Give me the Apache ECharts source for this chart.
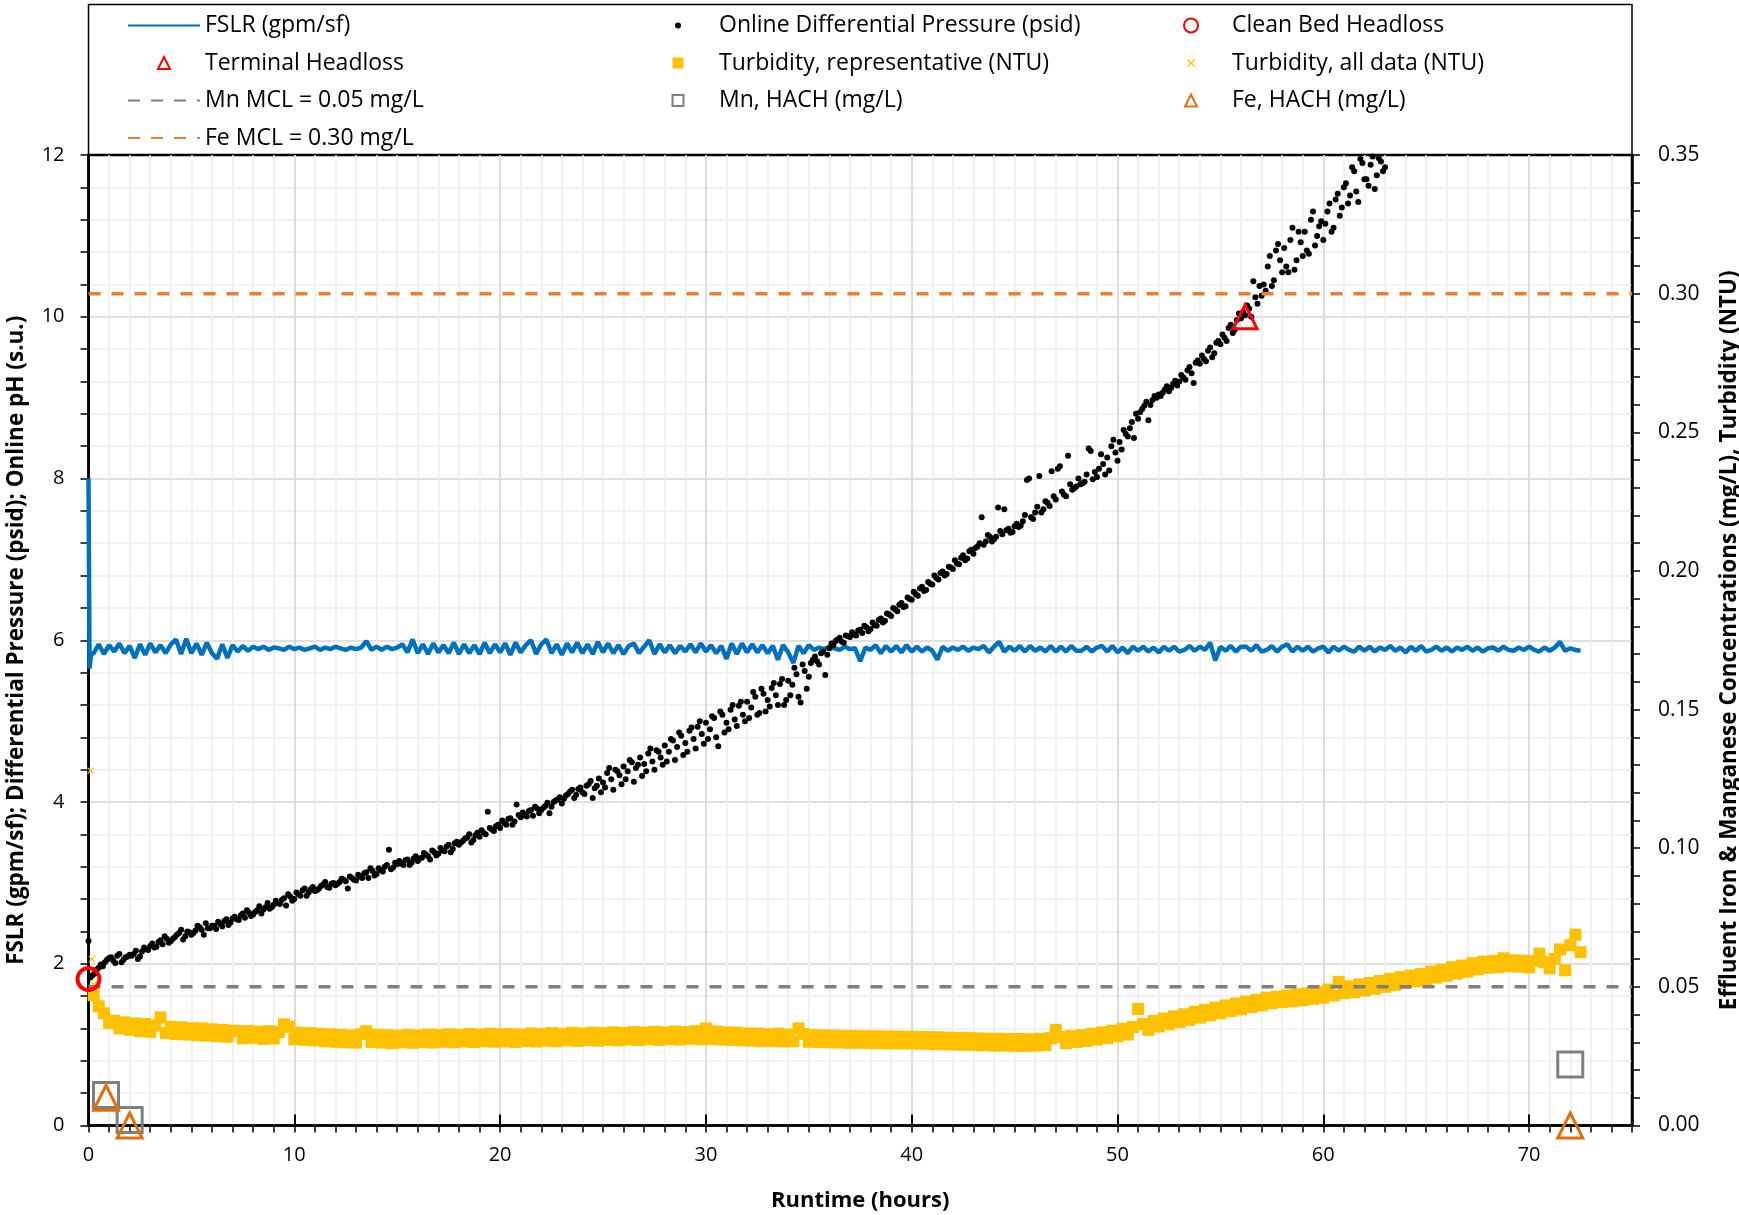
<!DOCTYPE html>
<html>
<head>
<meta charset="utf-8">
<script src="https://cdn.jsdelivr.net/npm/echarts@6/dist/echarts.min.js"></script>
<style>
  html, body { margin: 0; padding: 0; background: #ffffff; }
  #chart { width: 1739px; height: 1215px; }
</style>
</head>
<body>
<div id="chart"></div>
<script>
// ---- Filter run data -------------------------------------------------------

// Filter surface loading rate (gpm/sf): start-up points, then 15-minute log
const fslrStart = [[0, 8.0], [0.05, 5.65], [0.12, 5.82]];
const fslrStep = 0.25;
const fslrValues = [
  5.84, 5.95, 5.83, 5.94,  5.86, 5.96, 5.84, 5.93,  5.78, 5.95, 5.82, 5.96,  5.85, 5.94, 5.84, 5.95,
  6.01, 5.83, 6.02, 5.84,  5.96, 5.82, 5.97, 5.84,  5.77, 5.95, 5.78, 5.94,  5.86, 5.93, 5.87, 5.92,
  5.89, 5.92, 5.88, 5.91,  5.90, 5.88, 5.92, 5.89,  5.91, 5.88, 5.90, 5.92,  5.88, 5.91, 5.89, 5.92,
  5.90, 5.88, 5.91, 5.89,  5.91, 5.99, 5.88, 5.92,  5.88, 5.92, 5.89, 5.91,  5.95, 5.85, 6.01, 5.84,
  5.95, 5.83, 5.96, 5.85,  5.94, 5.84, 5.97, 5.83,  5.95, 5.84, 5.94, 5.83,  5.97, 5.84, 5.95, 5.85,
  5.96, 5.82, 5.97, 5.85,  5.94, 6.00, 5.83, 5.95,  6.01, 5.84, 5.95, 5.82,  5.96, 5.85, 5.97, 5.84,
  5.95, 5.83, 5.98, 5.85,  5.96, 5.84, 5.94, 5.83,  5.93, 5.96, 5.84, 5.92,  6.00, 5.83, 5.95, 5.85,
  5.94, 5.84, 5.93, 5.86,  5.95, 5.85, 5.96, 5.86,  5.94, 5.84, 5.93, 5.77,  5.96, 5.83, 5.96, 5.85,
  5.95, 5.85, 5.94, 5.84,  5.93, 5.76, 5.94, 5.85,  5.72, 5.93, 5.84, 5.94,  5.88, 5.91, 5.89, 5.92,
  5.90, 5.88, 5.92, 5.89,  5.90, 5.74, 5.91, 5.88,  5.94, 5.84, 5.93, 5.86,  5.93, 5.85, 5.94, 5.86,
  5.92, 5.86, 5.91, 5.87,  5.76, 5.92, 5.87, 5.91,  5.88, 5.92, 5.87, 5.91,  5.89, 5.93, 5.85, 5.92,
  5.98, 5.86, 5.92, 5.87,  5.93, 5.86, 5.93, 5.87,  5.91, 5.86, 5.93, 5.86,  5.92, 5.86, 5.93, 5.87,
  5.87, 5.92, 5.86, 5.91,  5.93, 5.86, 5.93, 5.85,  5.91, 5.84, 5.92, 5.87,  5.92, 5.86, 5.91, 5.85,
  5.92, 5.87, 5.92, 5.86,  5.88, 5.93, 5.87, 5.92,  5.88, 5.97, 5.75, 5.92,  5.87, 5.93, 5.86, 5.92,
  5.92, 5.87, 5.94, 5.86,  5.88, 5.93, 5.86, 5.92,  5.95, 5.86, 5.92, 5.87,  5.92, 5.86, 5.90, 5.92,
  5.85, 5.92, 5.87, 5.92,  5.88, 5.86, 5.92, 5.87,  5.92, 5.86, 5.91, 5.88,  5.93, 5.87, 5.91, 5.85,
  5.92, 5.87, 5.93, 5.86,  5.88, 5.92, 5.87, 5.91,  5.86, 5.91, 5.88, 5.92,  5.87, 5.91, 5.86, 5.90,
  5.91, 5.87, 5.92, 5.88,  5.87, 5.91, 5.88, 5.92,  5.88, 5.86, 5.91, 5.87,  5.91, 5.98, 5.87, 5.90,
  5.88, 5.87
];

// Online differential pressure (psid): first reading, then two interleaved 12-minute logs
const dpFirst = [0, 2.28];
const dpStep = 0.2;
// readings on the even tenths (0.2, 0.4, ...)
const dpValues = [
  1.86, 1.93, 1.99, 2.02, 2.07,  2.04, 2.10, 2.02, 2.08, 2.11,  2.12, 2.06, 2.15, 2.18, 2.22,
  2.20, 2.27, 2.24, 2.31, 2.28,  2.33, 2.38, 2.30, 2.40, 2.36,  2.41, 2.45, 2.36, 2.44, 2.47,
  2.43, 2.49, 2.53, 2.48, 2.56,  2.55, 2.60, 2.57, 2.63, 2.61,  2.66, 2.62, 2.70, 2.68, 2.73,
  2.75, 2.79, 2.72, 2.83, 2.80,  2.86, 2.91, 2.84, 2.92, 2.90,  2.93, 2.98, 2.95, 2.99, 2.97,
  3.01, 3.04, 2.93, 3.06, 3.03,  3.08, 3.12, 3.06, 3.15, 3.11,  3.16, 3.20, 3.41, 3.19, 3.23,
  3.24, 3.28, 3.22, 3.30, 3.27,  3.31, 3.35, 3.29, 3.38, 3.36,  3.40, 3.45, 3.38, 3.49, 3.47,
  3.52, 3.56, 3.50, 3.59, 3.57,  3.62, 3.88, 3.66, 3.70, 3.68,  3.74, 3.79, 3.72, 3.97, 3.81,
  3.84, 3.89, 3.83, 3.92, 3.90,  3.95, 3.86, 4.00, 4.03, 3.98,  4.08, 4.13, 4.05, 4.16, 4.12,
  4.20, 4.26, 4.17, 4.29, 4.24,  4.36, 4.28, 4.40, 4.33, 4.44,  4.38, 4.49, 4.42, 4.55, 4.47,
  4.60, 4.50, 4.64, 4.55, 4.70,  4.62, 4.76, 4.68, 4.82, 4.73,  4.88, 4.78, 4.93, 4.84, 4.98,
  4.90, 5.04, 4.69, 5.08, 4.98,  5.14, 5.02, 5.19, 5.08, 5.24,  5.17, 5.30, 5.10, 5.34, 5.26,
  5.41, 5.32, 5.46, 5.20, 5.50,  5.45, 5.58, 5.23, 5.62, 5.55,  5.76, 5.74, 5.84, 5.57, 5.90,
  5.94, 6.01, 5.98, 6.06, 6.04,  6.07, 6.12, 6.09, 6.16, 6.14,  6.19, 6.25, 6.22, 6.33, 6.30,
  6.38, 6.44, 6.41, 6.53, 6.50,  6.57, 6.64, 6.61, 6.72, 6.69,  6.77, 6.83, 6.80, 6.91, 6.88,
  6.95, 7.02, 6.99, 7.10, 7.07,  7.16, 7.52, 7.22, 7.28, 7.25,  7.64, 7.31, 7.36, 7.33, 7.41,
  7.40, 7.47, 7.98, 7.52, 7.58,  8.03, 7.62, 7.70, 8.09, 7.74,  8.15, 7.80, 8.28, 7.86, 7.90,
  7.93, 7.96, 8.37, 7.99, 8.02,  8.30, 8.05, 8.10, 8.48, 8.22,  8.36, 8.55, 8.62, 8.50, 8.74,
  8.86, 8.95, 8.91, 9.02, 9.04,  9.06, 9.14, 9.12, 9.21, 9.20,  9.25, 9.34, 9.30, 9.43, 9.42,
  9.48, 9.58, 9.50, 9.68, 9.66,  9.74, 9.86, 9.80, 9.96, 9.98,  10.02, 10.10, 10.44, 10.16, 10.26,
  10.32, 10.75, 10.45, 10.90, 10.55,  10.62, 10.95, 10.58, 11.05, 10.75,  10.82, 11.20, 10.88, 11.12, 10.95,
  11.30, 11.05, 11.45, 11.25, 11.60,  11.40, 11.85, 11.55, 11.95, 11.70,  11.62, 11.98, 11.75, 11.92, 11.85
];
// readings on the odd tenths (0.1, 0.3, ...)
const dpValuesOdd = [
  1.83, 1.88, 1.95, 1.97, 2.05,  2.08, 2.01, 2.12, 2.05, 2.09,  2.10, 2.16, 2.09, 2.20, 2.17,
  2.25, 2.21, 2.29, 2.34, 2.26,  2.31, 2.36, 2.42, 2.34, 2.39,  2.38, 2.47, 2.42, 2.50, 2.44,
  2.47, 2.52, 2.46, 2.55, 2.51,  2.58, 2.54, 2.62, 2.66, 2.59,  2.64, 2.71, 2.67, 2.75, 2.70,
  2.78, 2.74, 2.81, 2.86, 2.78,  2.88, 2.84, 2.93, 2.88, 2.95,  2.91, 2.96, 3.01, 2.94, 3.00,
  2.99, 3.05, 3.02, 3.08, 3.04,  3.10, 3.06, 3.13, 3.18, 3.09,  3.18, 3.14, 3.22, 3.17, 3.25,
  3.27, 3.22, 3.29, 3.25, 3.33,  3.30, 3.37, 3.33, 3.40, 3.34,  3.43, 3.39, 3.47, 3.42, 3.51,
  3.50, 3.55, 3.60, 3.53, 3.62,  3.65, 3.60, 3.68, 3.64, 3.72,  3.77, 3.72, 3.80, 3.76, 3.84,
  3.87, 3.82, 3.90, 3.94, 3.86,  3.93, 3.99, 3.94, 4.02, 4.06,  4.04, 4.10, 4.15, 4.09, 4.18,
  4.10, 4.22, 4.05, 4.20, 4.12,  4.18, 4.42, 4.15, 4.38, 4.22,  4.28, 4.52, 4.25, 4.46, 4.32,
  4.38, 4.66, 4.40, 4.62, 4.46,  4.50, 4.78, 4.52, 4.86, 4.58,  4.62, 4.92, 4.66, 5.00, 4.72,
  4.78, 5.06, 4.80, 5.12, 4.86,  4.90, 5.20, 4.94, 5.24, 5.00,  5.04, 5.36, 5.08, 5.40, 5.12,
  5.18, 5.47, 5.20, 5.52, 5.26,  5.32, 5.66, 5.30, 5.70, 5.40,  5.72, 5.80, 5.70, 5.86, 5.82,
  5.96, 5.99, 6.03, 5.97, 6.05,  6.10, 6.06, 6.13, 6.18, 6.11,  6.22, 6.18, 6.27, 6.24, 6.32,
  6.40, 6.36, 6.46, 6.42, 6.51,  6.60, 6.55, 6.66, 6.62, 6.70,  6.80, 6.75, 6.85, 6.82, 6.90,
  6.99, 6.94, 7.05, 7.01, 7.12,  7.14, 7.20, 7.18, 7.30, 7.22,  7.28, 7.35, 7.62, 7.38, 7.34,
  7.44, 7.42, 7.55, 8.00, 7.50,  7.65, 7.58, 7.72, 7.66, 7.78,  8.12, 7.84, 7.78, 7.93, 7.88,
  8.00, 7.94, 8.05, 8.34, 8.08,  8.12, 8.18, 8.26, 8.40, 8.32,  8.45, 8.60, 8.52, 8.70, 8.80,
  8.82, 8.90, 8.72, 8.97, 9.00,  9.02, 9.10, 9.08, 9.17, 9.15,  9.28, 9.22, 9.38, 9.18, 9.46,
  9.52, 9.45, 9.62, 9.55, 9.70,  9.78, 9.70, 9.90, 9.84, 10.04,  10.06, 10.14, 10.00, 10.24, 10.38,
  10.40, 10.62, 10.38, 10.82, 10.70,  10.85, 10.55, 11.10, 10.70, 10.92,  11.05, 10.78, 11.30, 11.00, 11.18,
  11.15, 11.40, 11.10, 11.52, 11.35,  11.65, 11.50, 11.80, 11.42, 11.90,  11.70, 11.88, 11.58, 11.96, 11.80
];

// Effluent turbidity, representative values (NTU), 15-minute log
const turbStep = 0.25;
const turbValues = [
  0.0470, 0.0430, 0.0405, 0.0370,  0.0378, 0.0350, 0.0372, 0.0345,  0.0368, 0.0340, 0.0366, 0.0338,
  0.0360, 0.0390, 0.0333, 0.0356,  0.0330, 0.0354, 0.0328, 0.0351,  0.0326, 0.0350, 0.0324, 0.0347,
  0.0322, 0.0345, 0.0320, 0.0342,  0.0340, 0.0314, 0.0341, 0.0316,  0.0338, 0.0312, 0.0340, 0.0314,
  0.0337, 0.0365, 0.0356, 0.0311,  0.0335, 0.0309, 0.0333, 0.0307,  0.0331, 0.0304, 0.0329, 0.0302,
  0.0327, 0.0300, 0.0325, 0.0299,  0.0329, 0.0340, 0.0301, 0.0327,  0.0299, 0.0326, 0.0297, 0.0324,
  0.0300, 0.0327, 0.0298, 0.0325,  0.0301, 0.0328, 0.0299, 0.0326,  0.0302, 0.0329, 0.0300, 0.0327,
  0.0303, 0.0330, 0.0301, 0.0328,  0.0304, 0.0331, 0.0302, 0.0329,  0.0303, 0.0330, 0.0301, 0.0328,
  0.0305, 0.0332, 0.0303, 0.0330,  0.0306, 0.0333, 0.0304, 0.0331,  0.0307, 0.0334, 0.0305, 0.0332,
  0.0308, 0.0335, 0.0306, 0.0333,  0.0309, 0.0336, 0.0307, 0.0334,  0.0310, 0.0337, 0.0308, 0.0335,
  0.0311, 0.0338, 0.0309, 0.0336,  0.0312, 0.0339, 0.0310, 0.0337,  0.0313, 0.0340, 0.0311, 0.0350,
  0.0312, 0.0339, 0.0310, 0.0336,  0.0309, 0.0335, 0.0307, 0.0332,  0.0306, 0.0332, 0.0304, 0.0329,
  0.0305, 0.0331, 0.0303, 0.0328,  0.0304, 0.0350, 0.0330, 0.0302,  0.0326, 0.0301, 0.0325, 0.0300,
  0.0324, 0.0299, 0.0323, 0.0298,  0.0323, 0.0298, 0.0322, 0.0297,  0.0322, 0.0297, 0.0321, 0.0296,
  0.0321, 0.0296, 0.0320, 0.0295,  0.0320, 0.0295, 0.0319, 0.0294,  0.0318, 0.0293, 0.0317, 0.0292,
  0.0316, 0.0291, 0.0315, 0.0290,  0.0314, 0.0289, 0.0313, 0.0288,  0.0313, 0.0288, 0.0312, 0.0287,
  0.0312, 0.0287, 0.0311, 0.0288,  0.0313, 0.0290, 0.0315, 0.0345,  0.0319, 0.0297, 0.0323, 0.0301,
  0.0326, 0.0305, 0.0331, 0.0310,  0.0336, 0.0315, 0.0342, 0.0322,  0.0349, 0.0328, 0.0355, 0.0420,
  0.0366, 0.0345, 0.0377, 0.0357,  0.0386, 0.0365, 0.0394, 0.0373,  0.0401, 0.0381, 0.0410, 0.0389,
  0.0417, 0.0397, 0.0425, 0.0405,  0.0433, 0.0413, 0.0440, 0.0419,  0.0447, 0.0427, 0.0453, 0.0433,
  0.0461, 0.0441, 0.0465, 0.0445,  0.0469, 0.0448, 0.0473, 0.0452,  0.0477, 0.0456, 0.0481, 0.0461,
  0.0490, 0.0469, 0.0518, 0.0477,  0.0502, 0.0481, 0.0509, 0.0487,  0.0514, 0.0493, 0.0521, 0.0500,
  0.0529, 0.0507, 0.0535, 0.0514,  0.0541, 0.0520, 0.0547, 0.0526,  0.0555, 0.0533, 0.0561, 0.0540,
  0.0571, 0.0548, 0.0577, 0.0555,  0.0585, 0.0563, 0.0591, 0.0569,  0.0593, 0.0571, 0.0603, 0.0575,
  0.0596, 0.0573, 0.0594, 0.0570,  0.0593, 0.0620, 0.0589, 0.0567,  0.0601, 0.0635, 0.0560, 0.0650,
  0.0688, 0.0625
];

// Turbidity readings outside the representative set (NTU)
const turbAll = [[0.10, 0.128], [0.17, 0.060], [0.25, 0.051]];

// Headloss markers (psid)
const cleanBed = [[0, 1.81]];
const terminal = [[56.2, 10.0]];

// Grab samples, HACH (mg/L)
const mnHach = [[0.85, 0.011], [2.0, 0.002], [72.0, 0.022]];
const feHach = [[0.85, 0.010], [2.0, 0.000], [72.0, 0.000]];

// Secondary MCLs (mg/L)
const mnMcl = 0.05;
const feMcl = 0.30;

// Axis ranges and ticks
const xRange = [0, 75];
const xMajor = 10;
const leftRange = [0, 12];
const leftMajor = 2;
const rightRange = [0, 0.35];
const rightMajor = 0.05;

// ---- Build series data ----------------------------------------------------
const fslrData = fslrStart.concat(fslrValues.map((v, i) => [+((i + 1) * fslrStep).toFixed(2), v]));
const dpData = [dpFirst]
  .concat(dpValuesOdd.map((v, i) => [+((i + 0.5) * dpStep).toFixed(2), v]))
  .concat(dpValues.map((v, i) => [+((i + 1) * dpStep).toFixed(2), v]));
const turbData = turbValues.map((v, i) => [+((i + 1) * turbStep).toFixed(2), v]);
const mnMclData = [[xRange[0], mnMcl], [xRange[1], mnMcl]];
const feMclData = [[xRange[0], feMcl], [xRange[1], feMcl]];

const FONT = 'Open Sans';
const BLACK = '#000000';
const BLUE = '#0070C0';
const GOLD = '#FFC000';
const GRAY = '#7F7F7F';
const ORANGE = '#ED7D31';
const DARK_ORANGE = '#E46C0A';
const RED = '#FF0000';
const CLEAR = 'rgba(255,255,255,0)';

const G = { left: 88.5, right: 107, top: 155, bottom: 89.5 };

const chart = echarts.init(document.getElementById('chart'), null, { renderer: 'canvas' });

const legendBase = {
  orient: 'vertical',
  align: 'left',
  top: 14,
  padding: 0,
  itemWidth: 72,
  itemHeight: 14,
  itemGap: 14.5,
  selectedMode: false,
  textStyle: { fontFamily: FONT, fontSize: 23, color: BLACK }
};

// legend icons drawn inside a padded 14x14 box
const dotIcon = 'path://M0,0M14,14M4,7a3,3 0 1,0 6,0a3,3 0 1,0 -6,0z';
const crossIcon = 'path://M0,0M14,14M3,4L4,3L7,6L10,3L11,4L8,7L11,10L10,11L7,8L4,11L3,10L6,7z';
const squareIcon = 'path://M0,0M14,14M1.5,1.5L12.5,1.5L12.5,12.5L1.5,12.5z';
const triIcon = 'path://M0,0M14,14M7,1L13,13L1,13z';
const hideSymbol = { opacity: 0 };

const option = {
  animation: false,
  backgroundColor: '#ffffff',
  textStyle: { fontFamily: FONT },
  graphic: [{
    type: 'rect',
    z: 0,
    shape: { x: G.left, y: 4.5, width: 1739 - G.left - G.right, height: G.top - 4.5 },
    style: { fill: 'none', stroke: BLACK, lineWidth: 1.5 }
  }],
  grid: {
    left: G.left, right: G.right, top: G.top, bottom: G.bottom,
    containLabel: false, outerBoundsMode: 'none',
    show: true, borderColor: BLACK, borderWidth: 2.5, backgroundColor: 'transparent'
  },
  legend: [
    Object.assign({}, legendBase, {
      left: 127,
      data: [
        { name: 'FSLR (gpm/sf)', itemStyle: hideSymbol },
        { name: 'Terminal Headloss', icon: triIcon },
        { name: 'Mn MCL = 0.05 mg/L', itemStyle: hideSymbol },
        { name: 'Fe MCL = 0.30 mg/L', itemStyle: hideSymbol }
      ]
    }),
    Object.assign({}, legendBase, {
      left: 670,
      data: [
        { name: 'Online Differential Pressure (psid)', icon: dotIcon },
        { name: 'Turbidity, representative (NTU)', icon: squareIcon },
        { name: 'Mn, HACH (mg/L)', icon: squareIcon }
      ]
    }),
    Object.assign({}, legendBase, {
      left: 1183,
      data: [
        { name: 'Clean Bed Headloss' },
        { name: 'Turbidity, all data (NTU)', icon: crossIcon },
        { name: 'Fe, HACH (mg/L)', icon: triIcon }
      ]
    })
  ],
  xAxis: [
    {
      type: 'value', min: xRange[0], max: xRange[1], interval: 1,
      axisLine: { onZero: false, lineStyle: { color: BLACK, width: 2.5 } },
      axisTick: { show: true, inside: false, length: 7, lineStyle: { color: BLACK, width: 1.5 } },
      splitLine: { show: true, showMinLine: false, showMaxLine: false, lineStyle: { color: '#EDEDED', width: 1.5 } },
      axisLabel: {
        margin: 20, fontFamily: FONT, fontSize: 20, color: BLACK,
        formatter: v => (v % xMajor === 0 ? String(v) : '')
      },
      name: 'Runtime (hours)', nameLocation: 'middle', nameGap: 64.5,
      nameTextStyle: { fontFamily: FONT, fontSize: 22, fontWeight: 'bold', color: BLACK }
    },
    {
      type: 'value', min: xRange[0], max: xRange[1], interval: xMajor,
      axisLine: { show: false },
      axisTick: { show: true, inside: false, length: 11, lineStyle: { color: BLACK, width: 2 } },
      splitLine: { show: true, showMinLine: false, showMaxLine: false, lineStyle: { color: '#D4D4D4', width: 1.5 } },
      axisLabel: { show: false }
    }
  ],
  yAxis: [
    {
      type: 'value', min: leftRange[0], max: leftRange[1], interval: leftMajor, position: 'left',
      axisLine: { show: true, onZero: false, lineStyle: { color: BLACK, width: 2.5 } },
      axisTick: { show: true, inside: false, length: 8, lineStyle: { color: BLACK, width: 1.5 } },
      minorTick: { show: true, splitNumber: 5, length: 8, lineStyle: { color: BLACK, width: 1.5 } },
      splitLine: { show: true, showMinLine: false, showMaxLine: false, lineStyle: { color: '#D4D4D4', width: 1.5 } },
      minorSplitLine: { show: true, lineStyle: { color: '#EDEDED', width: 1.5 } },
      axisLabel: { margin: 24, fontFamily: FONT, fontSize: 20, color: BLACK },
      name: 'FSLR (gpm/sf); Differential Pressure (psid); Online pH (s.u.)',
      nameLocation: 'middle', nameRotate: 90, nameGap: 60,
      nameTextStyle: { fontFamily: FONT, fontSize: 22.5, fontWeight: 'bold', color: BLACK }
    },
    {
      type: 'value', min: rightRange[0], max: rightRange[1], interval: rightMajor, position: 'right',
      axisLine: { show: true, onZero: false, lineStyle: { color: BLACK, width: 2.5 } },
      axisTick: { show: true, inside: false, length: 8, lineStyle: { color: BLACK, width: 1.5 } },
      minorTick: { show: true, splitNumber: 5, length: 8, lineStyle: { color: BLACK, width: 1.5 } },
      splitLine: { show: false },
      axisLabel: {
        margin: 26, fontFamily: FONT, fontSize: 21, color: BLACK,
        formatter: v => v.toFixed(2)
      },
      name: 'Effluent Iron & Manganese Concentrations (mg/L), Turbidity (NTU)',
      nameLocation: 'middle', nameRotate: 90, nameGap: 86,
      nameTextStyle: { fontFamily: FONT, fontSize: 22.5, fontWeight: 'bold', color: BLACK }
    }
  ],
  series: [
    {
      name: 'Turbidity, representative (NTU)', type: 'scatter', yAxisIndex: 1, z: 2,
      symbol: 'rect', symbolSize: 12, itemStyle: { color: GOLD, opacity: 1 },
      data: turbData
    },
    {
      name: 'FSLR (gpm/sf)', type: 'line', yAxisIndex: 0, z: 3,
      showSymbol: false, symbol: 'none',
      lineStyle: { color: BLUE, width: 4.5 }, itemStyle: { color: BLUE },
      data: fslrData
    },
    {
      name: 'Online Differential Pressure (psid)', type: 'scatter', yAxisIndex: 0, z: 4,
      symbol: 'circle', symbolSize: 6, itemStyle: { color: BLACK, opacity: 1 },
      data: dpData
    },
    {
      name: 'Turbidity, all data (NTU)', type: 'scatter', yAxisIndex: 1, z: 4,
      symbol: crossIcon, symbolSize: 12, itemStyle: { color: GOLD, opacity: 1 },
      data: turbAll
    },
    {
      name: 'Mn MCL = 0.05 mg/L', type: 'line', yAxisIndex: 1, z: 5,
      showSymbol: false, symbol: 'none',
      lineStyle: { color: GRAY, width: 3.5, type: [12, 11] }, itemStyle: { color: GRAY },
      data: mnMclData
    },
    {
      name: 'Fe MCL = 0.30 mg/L', type: 'line', yAxisIndex: 1, z: 5,
      showSymbol: false, symbol: 'none',
      lineStyle: { color: ORANGE, width: 3.5, type: [12, 11] }, itemStyle: { color: ORANGE },
      data: feMclData
    },
    {
      name: 'Mn, HACH (mg/L)', type: 'scatter', yAxisIndex: 1, z: 6, clip: false,
      symbol: 'rect', symbolSize: 25,
      itemStyle: { color: CLEAR, borderColor: GRAY, borderWidth: 3, opacity: 1 },
      data: mnHach
    },
    {
      name: 'Fe, HACH (mg/L)', type: 'scatter', yAxisIndex: 1, z: 7, clip: false,
      symbol: 'triangle', symbolSize: 25,
      itemStyle: { color: CLEAR, borderColor: DARK_ORANGE, borderWidth: 3, opacity: 1 },
      data: feHach
    },
    {
      name: 'Clean Bed Headloss', type: 'scatter', yAxisIndex: 0, z: 7, clip: false,
      symbol: 'circle', symbolSize: 22,
      itemStyle: { color: CLEAR, borderColor: RED, borderWidth: 4, opacity: 1 },
      data: cleanBed
    },
    {
      name: 'Terminal Headloss', type: 'scatter', yAxisIndex: 0, z: 7, clip: false,
      symbol: 'triangle', symbolSize: 24,
      itemStyle: { color: CLEAR, borderColor: RED, borderWidth: 3, opacity: 1 },
      data: terminal
    }
  ]
};

chart.setOption(option);
</script>
</body>
</html>
